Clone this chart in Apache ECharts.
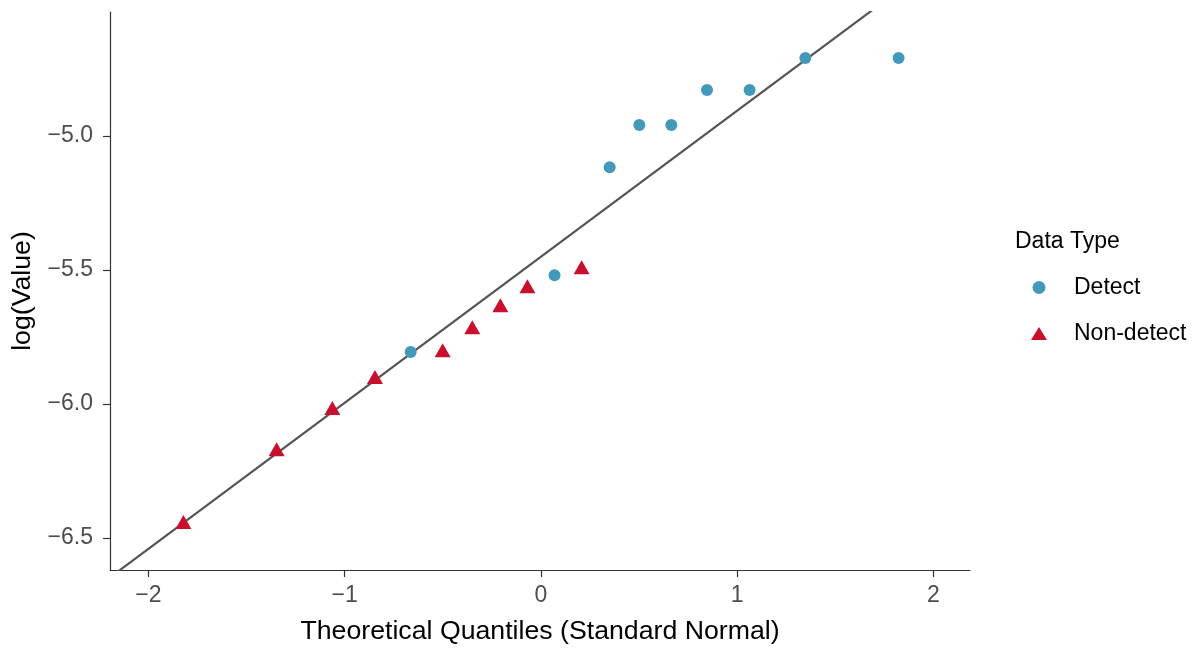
<!DOCTYPE html>
<html>
<head>
<meta charset="utf-8">
<script src="https://cdn.jsdelivr.net/npm/echarts@6/dist/echarts.min.js"></script>
<style>
html,body{margin:0;padding:0;background:#fff;}
#c{width:1198px;height:648px;}
</style>
</head>
<body>
<div id="c"></div>
<script>
// Data
const detectX = [-0.664, 0.069, 0.350, 0.501, 0.664, 0.846, 1.063, 1.347, 1.822];
const detectY = [-5.806, -5.519, -5.116, -4.959, -4.959, -4.828, -4.828, -4.709, -4.709];
const nondetectX = [-1.822, -1.347, -1.063, -0.846, -0.501, -0.350, -0.207, -0.069, 0.207];
const nondetectY = [-6.440, -6.168, -6.015, -5.899, -5.799, -5.713, -5.631, -5.560, -5.489];
const lineIntercept = [-5.450];
const lineSlope = [0.545];
const xTicks = [-2, -1, 0, 1, 2];
const yTicks = [-6.5, -6.0, -5.5, -5.0];
const seriesNames = ['Detect', 'Non-detect'];

const xMin = -2.196, xMax = 2.186, yMin = -6.619, yMax = -4.537;
const minus = v => String(v).replace('-', '\u2212');
const lineData = [xMin - 0.5, xMax + 0.5].map(x => [x, lineIntercept[0] + lineSlope[0] * x]);

const chart = echarts.init(document.getElementById('c'));
const font = 'Liberation Sans, Arial, sans-serif';
chart.setOption({
  animation: false,
  backgroundColor: '#fff',
  grid: {left: 110, top: 12, right: 228, bottom: 78, containLabel: false, outerBoundsMode: 'none'},
  xAxis: {
    type: 'value', min: xMin, max: xMax,
    name: 'Theoretical Quantiles (Standard Normal)',
    nameLocation: 'middle', nameGap: 48,
    nameTextStyle: {fontFamily: font, fontSize: 26.7, color: '#000'},
    splitLine: {show: false},
    axisLine: {show: true, onZero: false, lineStyle: {color: '#333', width: 1.2}},
    axisTick: {show: true, length: 7, lineStyle: {color: '#333', width: 1.2}, customValues: xTicks},
    axisLabel: {fontFamily: font, fontSize: 23, color: '#4d4d4d', margin: 14, customValues: xTicks,
      formatter: v => minus(v)}
  },
  yAxis: {
    type: 'value', min: yMin, max: yMax,
    name: 'log(Value)', nameLocation: 'middle', nameGap: 74, nameRotate: 90,
    nameTextStyle: {fontFamily: font, fontSize: 26.7, color: '#000'},
    splitLine: {show: false},
    axisLine: {show: true, onZero: false, lineStyle: {color: '#333', width: 1.2}},
    axisTick: {show: true, length: 7, lineStyle: {color: '#333', width: 1.2}, customValues: yTicks},
    axisLabel: {fontFamily: font, fontSize: 23, color: '#4d4d4d', margin: 17, customValues: yTicks,
      formatter: v => minus(v.toFixed(1))}
  },
  legend: {
    orient: 'vertical', left: 1026, top: 271, itemGap: 23,
    itemWidth: 16, itemHeight: 13,
    data: [{name: seriesNames[0], icon: 'circle'}, {name: seriesNames[1], icon: 'triangle'}],
    textStyle: {fontFamily: font, fontSize: 23, color: '#000', padding: [0, 0, 0, 22]}
  },
  graphic: [{type: 'text', left: 1015, top: 230,
    style: {text: 'Data Type', font: '23px ' + font, fill: '#000'}}],
  series: [
    {type: 'line', data: lineData, showSymbol: false, clip: true, silent: true,
     lineStyle: {color: '#555', width: 2.2}, z: 1},
    {name: seriesNames[0], type: 'scatter', symbol: 'circle', symbolSize: 12,
     itemStyle: {color: '#4499bb', opacity: 1}, z: 3,
     data: detectX.map((x, i) => [x, detectY[i]])},
    {name: seriesNames[1], type: 'scatter', symbol: 'triangle', symbolSize: [16, 14],
     itemStyle: {color: '#c8102e', opacity: 1}, z: 3,
     data: nondetectX.map((x, i) => [x, nondetectY[i]])}
  ]
});
</script>
</body>
</html>
